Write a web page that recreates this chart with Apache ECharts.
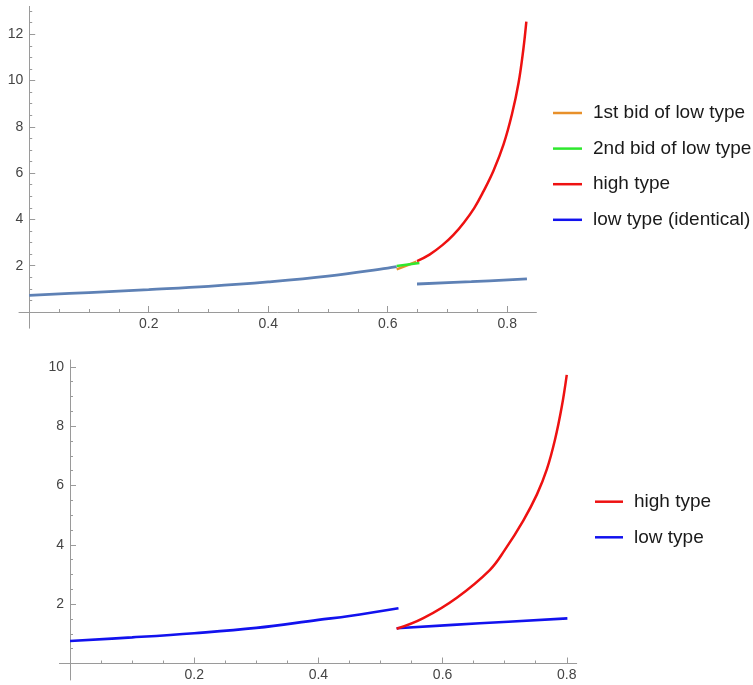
<!DOCTYPE html>
<html>
<head>
<meta charset="utf-8">
<script src="https://cdn.jsdelivr.net/npm/echarts@6/dist/echarts.min.js"></script>
<style>
  html, body { margin: 0; padding: 0; background: #fff; }
  #main { width: 753px; height: 685px; }
</style>
</head>
<body>
<div id="main"></div>
<script>
// top panel: bids vs. x
var topLow = [[0, 0.72], [0.1, 0.84], [0.2, 0.97], [0.3, 1.11], [0.4, 1.3], [0.5, 1.55], [0.6, 1.9], [0.615, 1.96],
  [0.632, null],
  [0.649, 1.21], [0.74, 1.31], [0.833, 1.43]];
var topFirstBid = [[0.615, 1.84], [0.648, 2.17]];
var topSecondBid = [[0.615, 1.99], [0.653, 2.12]];
var topHigh = [[0.649, 2.2], [0.67, 2.48], [0.692, 2.9], [0.71, 3.33], [0.728, 3.88], [0.745, 4.5], [0.76, 5.2],
  [0.777, 6.1], [0.794, 7.25], [0.808, 8.55], [0.819, 9.9], [0.827, 11.35], [0.832, 12.54]];

// bottom panel
var botLow = [[0, 0.76], [0.1, 0.88], [0.2, 1.02], [0.3, 1.2], [0.4, 1.47], [0.45, 1.6], [0.529, 1.86],
  [0.5275, null],
  [0.526, 1.19], [0.66, 1.355], [0.801, 1.52]];
var botHigh = [[0.526, 1.17], [0.569, 1.53], [0.623, 2.22], [0.676, 3.15], [0.7, 3.82], [0.73, 4.82],
  [0.752, 5.7], [0.768, 6.55], [0.781, 7.54], [0.792, 8.66], [0.8, 9.73]];

// tick labels
var xLabels = [0.2, 0.4, 0.6, 0.8];
var topYLabels = [2, 4, 6, 8, 10, 12];
var botYLabels = [2, 4, 6, 8, 10];

var topLegend = ['1st bid of low type', '2nd bid of low type', 'high type', 'low type (identical)'];
var botLegend = ['high type', 'low type'];

var axisGray = '#9a9a9a'
  ,labelColor = '#444'
  ,font = 'Arial, "Liberation Sans", sans-serif';

// axis that carries ticks + labels (starts at 0, sits on the grid edge)
function dataAxis(gridIndex, max, labels, splitNumber, isY) {
  return {
    type: 'value',
    gridIndex: gridIndex,
    min: 0,
    max: max,
    splitNumber: splitNumber,
    splitLine: { show: false },
    axisLine: { show: false, onZero: false },
    axisTick: { show: true, inside: true, length: 6, customValues: labels, lineStyle: { color: axisGray } },
    minorTick: { show: true, splitNumber: 4, length: 3, lineStyle: { color: axisGray } },
    axisLabel: {
      show: true,
      customValues: labels,
      margin: isY ? 6 : 5,
      color: labelColor,
      fontFamily: font,
      fontSize: 14,
      formatter: function (v) {
        return isY ? String(Math.round(v)) : (+v).toFixed(1);
      }
    }
  };
}

// axis that only draws the line, running a bit past the origin
function lineAxis(gridIndex, min, max) {
  return {
    type: 'value',
    gridIndex: gridIndex,
    min: min,
    max: max,
    splitLine: { show: false },
    axisLine: { show: true, onZero: true, lineStyle: { color: axisGray, width: 1 } },
    axisTick: { show: false },
    minorTick: { show: false },
    axisLabel: { show: false }
  };
}

function line(name, data, color, width, xi, z) {
  return {
    name: name,
    type: 'line',
    xAxisIndex: xi,
    yAxisIndex: xi,
    data: data,
    smooth: 0.4,
    showSymbol: false,
    symbol: 'none',
    connectNulls: false,
    z: z,
    lineStyle: { color: color, width: width },
    itemStyle: { color: color }
  };
}

function legend(left, top, iconW, names) {
  return {
    orient: 'vertical',
    left: left,
    top: top,
    padding: 0,
    icon: 'rect',
    itemWidth: iconW,
    itemHeight: 2.5,
    itemGap: 16.6,
    selectedMode: false,
    textStyle: { fontSize: 19, color: '#1a1a1a', fontFamily: font, padding: [0, 0, 0, 6] },
    data: names
  };
}

var chart = echarts.init(document.getElementById('main'), null, { renderer: 'canvas' });

chart.setOption({
  animation: false,
  backgroundColor: '#fff',
  grid: [
    // top: data area (x 0..0.849, y 0..13.2)
    { left: 29.2, top: 6.4, width: 507.3, height: 305.6, outerBoundsMode: 'none', containLabel: false },
    // top: axis lines (x -0.017..0.849, y -0.7..13.2)
    { left: 19, top: 6.4, width: 517.4, height: 321.8, outerBoundsMode: 'none', containLabel: false },
    // bottom: data area (x 0..0.816, y 0..10.23)
    { left: 70, top: 360, width: 506.7, height: 303.5, outerBoundsMode: 'none', containLabel: false },
    // bottom: axis lines (x -0.017..0.816, y -0.55..10.23)
    { left: 59.4, top: 360, width: 517.3, height: 320, outerBoundsMode: 'none', containLabel: false }
  ],
  xAxis: [
    dataAxis(0, 0.849, xLabels, 5, false),
    lineAxis(1, -0.017, 0.849),
    dataAxis(2, 0.816, xLabels, 5, false),
    lineAxis(3, -0.017, 0.816)
  ],
  yAxis: [
    dataAxis(0, 13.2, topYLabels, 7, true),
    lineAxis(1, -0.7, 13.2),
    dataAxis(2, 10.23, botYLabels, 5, true),
    lineAxis(3, -0.55, 10.23)
  ],
  legend: [
    legend(553, 103.5, 29, [
      { name: topLegend[0] },
      { name: topLegend[1] },
      { name: topLegend[2] },
      { name: topLegend[3], itemStyle: { color: '#1212ee' } }
    ]),
    legend(595, 492.2, 28, [
      { name: botLegend[0] },
      { name: botLegend[1] }
    ])
  ],
  series: [
    line(topLegend[3], topLow, '#5e81b5', 2.8, 0, 2),
    line(topLegend[0], topFirstBid, '#e8902a', 2.5, 0, 3),
    line(topLegend[1], topSecondBid, '#2ee82e', 2.5, 0, 4),
    line(topLegend[2], topHigh, '#ee1111', 2.5, 0, 5),
    line(botLegend[1], botLow, '#1212ee', 2.6, 2, 2),
    line(botLegend[0], botHigh, '#ee1111', 2.5, 2, 3)
  ]
});
</script>
</body>
</html>
